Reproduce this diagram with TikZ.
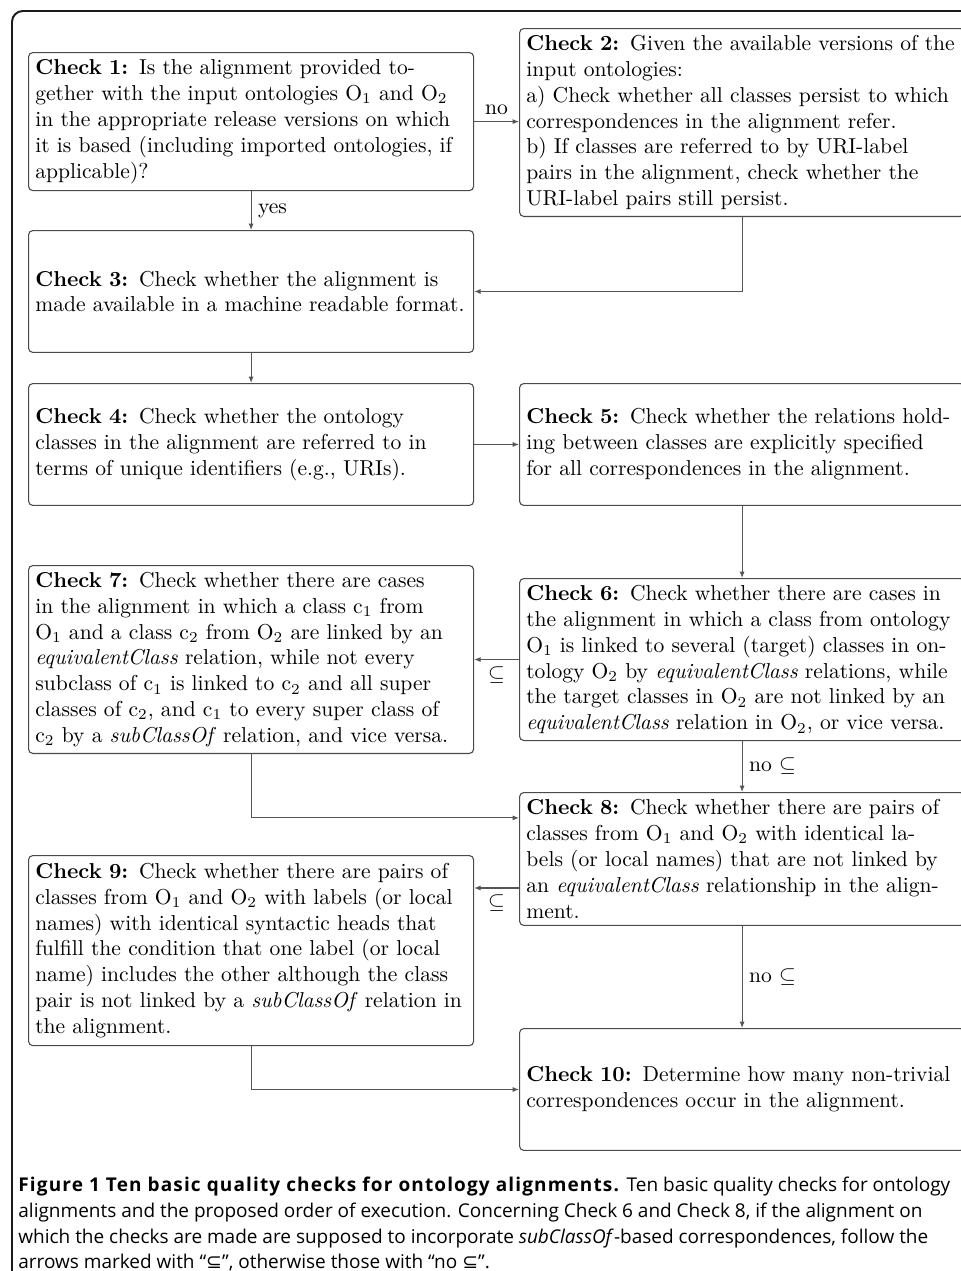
\documentclass[tikz,border=0pt]{standalone}
\usepackage{fontspec}
\usepackage{tikz}
\usetikzlibrary{arrows.meta,positioning}
\newfontfamily\capfont{Open Sans}[BoldFeatures={LetterSpace=6}]
\newfontfamily\symfont{DejaVu Sans}
\definecolor{BoxLine}{HTML}{4A4A4A}
\definecolor{ArrLine}{HTML}{555555}
\definecolor{FrameLine}{HTML}{1A1A1A}

\begin{document}
\begin{tikzpicture}[
  x=0.4635pt, y=-0.4635pt,
  check/.style={draw=BoxLine, rounded corners=2pt, line width=0.5pt, text width=200pt, inner xsep=3.15pt, inner ysep=2pt, align=left, anchor=north west},
  flow/.style={-{Latex[length=3pt,width=2.4pt]}, draw=ArrLine, line width=0.5pt},
  tag/.style={inner sep=3pt}
]
\useasboundingbox (0,0) rectangle (960,1271);
\draw[FrameLine, line width=0.9pt, rounded corners=5pt] (12,1300) |- (1000,11);
\node[check, minimum height=64pt] (c1) at (28,52) {\textbf{Check 1:} Is the alignment provided to-\\gether with the input ontologies O$_1$ and O$_2$\\in the appropriate release versions on which\\it is based (including imported ontologies, if\\applicable)?};
\node[check, minimum height=87.1pt] (c2) at (519,28) {\textbf{Check 2:} Given the available versions of the\\input ontologies:\\a) Check whether all classes persist to which\\correspondences in the alignment refer.\\b) If classes are referred to by URI-label\\pairs in the alignment, check whether the\\URI-label pairs still persist.};
\node[check, minimum height=56.5pt] (c3) at (28,230) {\textbf{Check 3:} Check whether the alignment is\\made available in a machine readable format.};
\node[check, minimum height=56.5pt] (c4) at (28,383) {\textbf{Check 4:} Check whether the ontology\\classes in the alignment are referred to in\\terms of unique identifiers (e.g., URIs).};
\node[check, minimum height=56.5pt] (c5) at (519,383) {\textbf{Check 5:} Check whether the relations hold-\\ing between classes are explicitly specified\\for all correspondences in the alignment.};
\node[check, minimum height=75.1pt] (c6) at (519,578) {\textbf{Check 6:} Check whether there are cases in\\the alignment in which a class from ontology\\O$_1$ is linked to several (target) classes in on-\\tology O$_2$ by \emph{equivalentClass} relations, while\\the target classes in O$_2$ are not linked by an\\\emph{equivalentClass} relation in O$_2$, or vice versa.};
\node[check, minimum height=87.1pt] (c7) at (28,565) {\textbf{Check 7:} Check whether there are cases\\in the alignment in which a class c$_1$ from\\O$_1$ and a class c$_2$ from O$_2$ are linked by an\\\emph{equivalentClass} relation, while not every\\subclass of c$_1$ is linked to c$_2$ and all super\\classes of c$_2$, and c$_1$ to every super class of\\c$_2$ by a \emph{subClassOf} relation, and vice versa.};
\node[check, minimum height=61.6pt] (c8) at (519,792) {\textbf{Check 8:} Check whether there are pairs of\\classes from O$_1$ and O$_2$ with identical la-\\bels (or local names) that are not linked by\\an \emph{equivalentClass} relationship in the align-\\ment.};
\node[check, minimum height=88.1pt] (c9) at (28,855) {\textbf{Check 9:} Check whether there are pairs of\\classes from O$_1$ and O$_2$ with labels (or local\\names) with identical syntactic heads that\\fulfill the condition that one label (or local\\name) includes the other although the class\\pair is not linked by a \emph{subClassOf} relation in\\the alignment.};
\node[check, minimum height=56.5pt] (c10) at (519,1028) {\textbf{Check 10:} Determine how many non-trivial\\correspondences occur in the alignment.};
\coordinate (c8in) at ([yshift=-12pt]c8.north west);
\coordinate (c8out) at ([yshift=-44.5pt]c8.north west);
\draw[flow] (c1.east) -- node[tag, above]{no} (c1.east -| c2.west);
\draw[flow] (c1) -- node[tag, right]{yes} (c3);
\draw[flow] (c2) |- (c3);
\draw[flow] (c3) -- (c4);
\draw[flow] (c4) -- (c5);
\draw[flow] (c5) -- (c6);
\draw[flow] (c6.west) -- node[tag, below]{$\subseteq$} (c6.west -| c7.east);
\draw[flow] (c7) |- (c8in);
\draw[flow] (c6) -- node[tag, right]{no $\subseteq$} (c8);
\draw[flow] (c8out) -- node[tag, below]{$\subseteq$} (c8out -| c9.east);
\draw[flow] (c8) -- node[tag, right]{no $\subseteq$} (c10);
\draw[flow] (c9) |- (c10);
\node[anchor=north west, align=left, inner sep=0pt, font=\capfont\fontsize{8.8}{11.9}\selectfont] (cap) at (18,1177) {\textbf{Figure 1 Ten basic quality checks for ontology alignments.} Ten basic quality checks for ontology\\ alignments and the proposed order of execution. Concerning Check 6 and Check 8, if the alignment on\\ which the checks are made are supposed to incorporate \textit{subClassOf}-based correspondences, follow the\\ arrows marked with “{\symfont ⊆}”, otherwise those with “no {\symfont ⊆}”.};
\end{tikzpicture}
\end{document}
